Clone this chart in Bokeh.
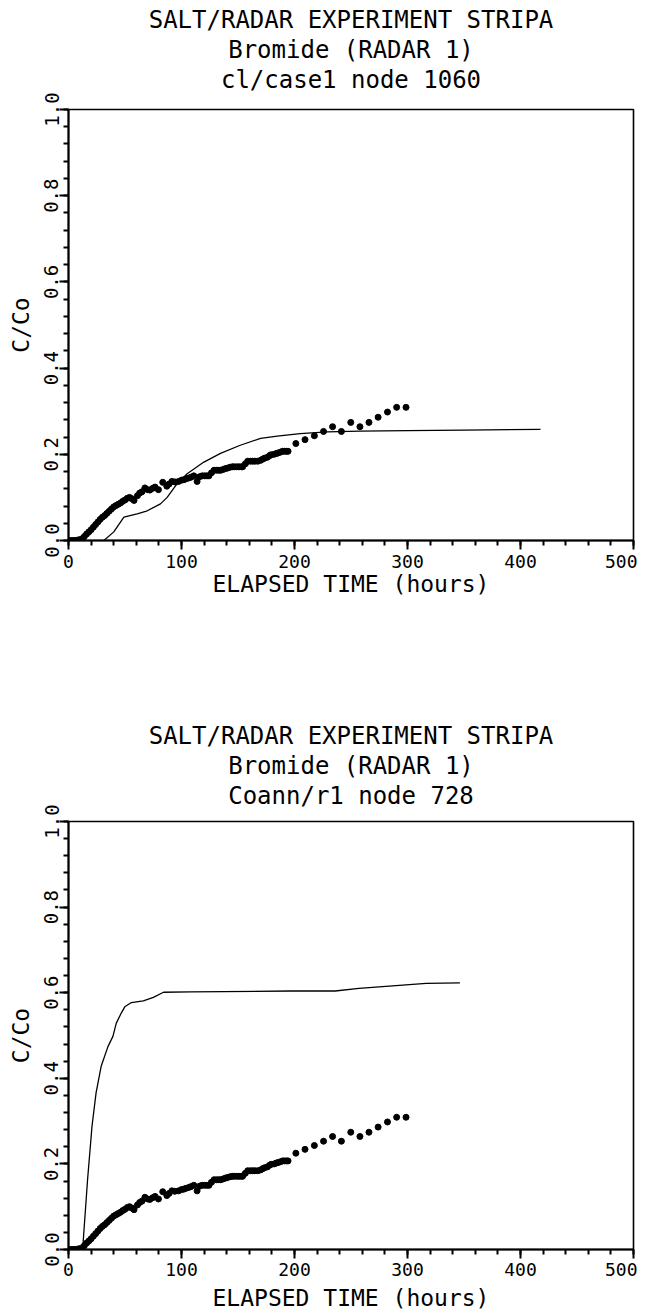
from bokeh.plotting import figure
from bokeh.layouts import column
from bokeh.models import Range1d, SingleIntervalTicker, PrintfTickFormatter, Title
from bokeh.embed import file_html
from bokeh.resources import INLINE

# ---------------- data ----------------
# observed bromide breakthrough (same data in both panels)
obs_t = [0, 2, 4, 6, 8, 10, 12, 14, 16, 18, 20, 22, 24, 26, 28, 30, 32, 34, 36, 38,
         40, 42, 44, 46, 48, 50, 52, 54, 56, 58, 61, 63, 65, 67.6, 70, 72, 74.5, 76.6,
         79.6, 83.4, 87, 89, 91.5, 94, 97.4, 100, 102, 104, 106.4, 108.5, 110.9, 113.8,
         116, 118.3, 120.5, 122.5, 124.3, 126.5, 128.8, 131, 133, 134.7, 137, 139, 140.7,
         143, 145, 146.7, 149, 151, 153, 154.1, 156.5, 158.6, 161, 163, 165, 167.5, 170,
         172, 173.5, 176, 178, 179.4, 182, 184, 185.4, 187.5, 189.5, 191.3, 193, 194.3,
         201.2, 209.3, 217.6, 225.7, 233.7, 241.5, 249.8, 257.9, 265.9, 274.0, 282.3,
         290.4, 298.7]
obs_c = [0.000, 0.000, 0.000, 0.000, 0.001, 0.002, 0.004, 0.009, 0.015, 0.020, 0.025,
         0.031, 0.037, 0.043, 0.049, 0.054, 0.058, 0.063, 0.068, 0.073, 0.078, 0.081,
         0.084, 0.087, 0.091, 0.094, 0.098, 0.100, 0.097, 0.093, 0.104, 0.110, 0.113,
         0.122, 0.118, 0.117, 0.121, 0.124, 0.118, 0.135, 0.126, 0.131, 0.137, 0.136,
         0.137, 0.140, 0.141, 0.143, 0.145, 0.147, 0.150, 0.137, 0.148, 0.150, 0.150,
         0.150, 0.150, 0.157, 0.163, 0.163, 0.163, 0.163, 0.165, 0.167, 0.168, 0.170,
         0.171, 0.171, 0.171, 0.171, 0.171, 0.171, 0.178, 0.184, 0.184, 0.184, 0.184,
         0.184, 0.186, 0.189, 0.191, 0.193, 0.197, 0.199, 0.200, 0.202, 0.203, 0.205,
         0.207, 0.207, 0.207, 0.207,
         0.225, 0.234, 0.243, 0.253, 0.264, 0.253, 0.274, 0.264, 0.274, 0.286, 0.298,
         0.309, 0.309]

# model cl/case1 node 1060
m1_t = [31.3, 40.1, 49, 60.8, 69.7, 81.4, 87.3, 94.7, 105, 119.8, 134.5, 152, 170,
        184.7, 205, 229, 258, 300, 350, 417.7]
m1_c = [0.0, 0.020, 0.054, 0.062, 0.069, 0.085, 0.100, 0.127, 0.155, 0.182, 0.202,
        0.221, 0.237, 0.242, 0.248, 0.252, 0.254, 0.255, 0.256, 0.258]

# model Coann/r1 node 728
m2_t = [0, 12.5, 16.9, 20.8, 24.4, 28.9, 34.9, 39.3, 42.3, 46.8, 49.8, 55.7, 66.2,
        75.1, 84.1, 108, 197.3, 236, 257, 286.8, 316.5, 346.4]
m2_c = [0.0, 0.0, 0.164, 0.288, 0.366, 0.428, 0.474, 0.498, 0.529, 0.553, 0.567,
        0.577, 0.581, 0.589, 0.601, 0.602, 0.604, 0.604, 0.610, 0.616, 0.622, 0.623]

titles = [["SALT/RADAR EXPERIMENT STRIPA", "Bromide (RADAR 1)", "cl/case1 node 1060"],
          ["SALT/RADAR EXPERIMENT STRIPA", "Bromide (RADAR 1)", "Coann/r1 node 728"]]
x_label = "ELAPSED TIME (hours)"
y_label = "C/Co"

FONT = "DejaVu Sans Mono"
FRAME_W = 565


def make_panel(title_lines, title_gap, model_t, model_c, height, border_top,
               frame_h, xlabel_standoff, xtick_standoff):
    border_bottom = height - border_top - frame_h
    p = figure(width=68 + FRAME_W + 4, height=height, output_backend="svg",
               toolbar_location=None,
               x_range=Range1d(0, 500), y_range=Range1d(0, 1.0),
               min_border_left=68, min_border_right=4,
               min_border_top=border_top, min_border_bottom=border_bottom)
    p.title.visible = False

    # thin blank spacer between frame and the title block
    p.add_layout(Title(text=" ", text_font_size="1px", standoff=title_gap), "above")
    # add the line closest to the frame first
    for line in reversed(title_lines):
        p.add_layout(Title(text=line, align="center", text_font=FONT,
                           text_font_size="24px", text_font_style="normal",
                           text_color="black", standoff=0), "above")

    p.grid.visible = False
    p.outline_line_color = "black"
    p.outline_line_width = 1.6
    p.background_fill_color = "white"
    p.border_fill_color = "white"

    xa = p.below[0]
    xa.ticker = SingleIntervalTicker(interval=100, num_minor_ticks=5)
    xa.axis_label = x_label
    ya = p.left[0]
    ya.ticker = SingleIntervalTicker(interval=0.2, num_minor_ticks=5)
    ya.formatter = PrintfTickFormatter(format="%.1f")
    ya.axis_label = y_label
    ya.major_label_orientation = "vertical"

    for ax in (xa, ya):
        ax.axis_line_width = 2
        ax.axis_line_color = "black"
        ax.major_tick_line_width = 2
        ax.minor_tick_line_width = 2
        ax.major_tick_line_color = "black"
        ax.minor_tick_line_color = "black"
        ax.major_tick_in = 0
        ax.minor_tick_in = 0
        ax.major_tick_out = 9
        ax.minor_tick_out = 5
        ax.major_label_text_font = FONT
        ax.major_label_text_color = "black"
        ax.axis_label_text_font = FONT
        ax.axis_label_text_font_style = "normal"
        ax.axis_label_text_color = "black"
        ax.axis_label_text_font_size = "23px"

    xa.major_label_text_font_size = "18px"
    xa.major_label_standoff = xtick_standoff
    xa.axis_label_standoff = xlabel_standoff
    ya.major_label_text_font_size = "19px"
    ya.major_label_standoff = 1
    ya.axis_label_standoff = 8

    p.line(model_t, model_c, line_color="black", line_width=1.3)
    p.scatter(obs_t, obs_c, size=6, marker="circle", fill_color="black",
              line_color="black")
    return p


p1 = make_panel(titles[0], 13, m1_t, m1_c, height=620, border_top=109,
                frame_h=431, xlabel_standoff=0, xtick_standoff=5)
p2 = make_panel(titles[1], 9, m2_t, m2_c, height=693, border_top=201,
                frame_h=430, xlabel_standoff=6, xtick_standoff=4)

layout = column(p1, p2, spacing=0)
open("out.html", "w").write(file_html(layout, INLINE))
